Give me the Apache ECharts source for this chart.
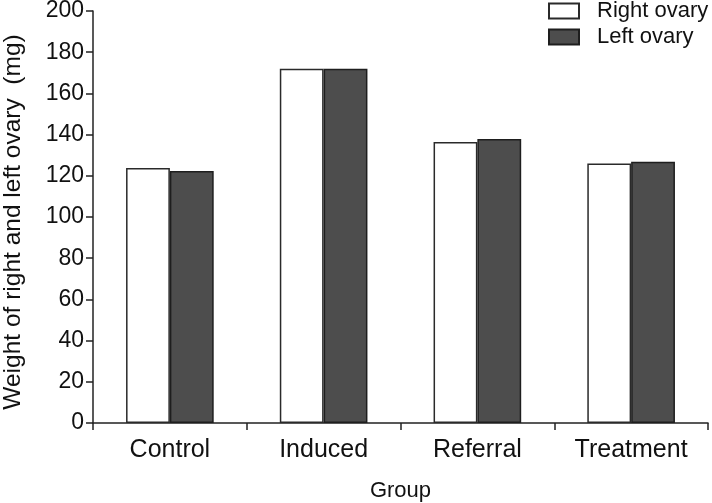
<!DOCTYPE html>
<html>
<head>
<meta charset="utf-8">
<script src="https://cdn.jsdelivr.net/npm/echarts@6/dist/echarts.min.js"></script>
<style>html,body{margin:0;padding:0;background:#fff}#c{width:712px;height:503px}</style>
</head>
<body>
<div id="c"></div>
<script>
var categories = ['Control', 'Induced', 'Referral', 'Treatment'];
var rightOvary = [123.8, 172, 136.4, 126];
var leftOvary = [122.3, 172, 137.9, 126.8];
var seriesNames = ['Right ovary', 'Left ovary'];

var FONT = '"Liberation Sans", Arial, sans-serif';
var chart = echarts.init(document.getElementById('c'), null, {renderer: 'canvas'});
chart.setOption({
  animation: false,
  backgroundColor: '#fff',
  textStyle: {fontFamily: FONT, color: '#111'},
  grid: {left: 93, right: 4, top: 11, bottom: 80, containLabel: false, outerBoundsMode: 'none'},
  legend: {
    orient: 'vertical', left: 548, top: 0, padding: 0,
    icon: 'rect',
    itemWidth: 30, itemHeight: 15, itemGap: 4,
    textStyle: {fontFamily: FONT, fontSize: 22, color: '#111', lineHeight: 22, padding: [0, 0, 0, 13]},
    data: seriesNames
  },
  xAxis: {
    type: 'category', data: categories,
    name: 'Group', nameLocation: 'middle', nameGap: 57,
    nameTextStyle: {fontFamily: FONT, fontSize: 22, color: '#111'},
    axisLine: {lineStyle: {color: '#222', width: 1.5}},
    axisTick: {show: true, length: 7, alignWithLabel: false, lineStyle: {color: '#222', width: 1.5}},
    axisLabel: {fontFamily: FONT, fontSize: 25, color: '#111', margin: 15}
  },
  yAxis: {
    type: 'value', min: 0, max: 200, interval: 20,
    name: 'Weight of right and left ovary  (mg)', nameLocation: 'middle', nameGap: 67, nameRotate: 90,
    nameTextStyle: {fontFamily: FONT, fontSize: 24.5, color: '#111', padding: [0, 10, 0, 0]},
    axisLine: {show: true, lineStyle: {color: '#222', width: 1.5}},
    axisTick: {show: true, length: 7, lineStyle: {color: '#222', width: 1.5}},
    axisLabel: {fontFamily: FONT, fontSize: 23, color: '#111', margin: 9},
    splitLine: {show: false}
  },
  series: [
    {
      name: seriesNames[0], type: 'bar', data: rightOvary,
      barGap: '0%', barCategoryGap: '43%',
      itemStyle: {color: '#ffffff', borderColor: '#2a2a2a', borderWidth: 1.5}
    },
    {
      name: seriesNames[1], type: 'bar', data: leftOvary,
      barGap: '0%', barCategoryGap: '43%',
      itemStyle: {color: '#4d4d4d', borderColor: '#1e1e1e', borderWidth: 1.5}
    }
  ]
});
</script>
</body>
</html>
